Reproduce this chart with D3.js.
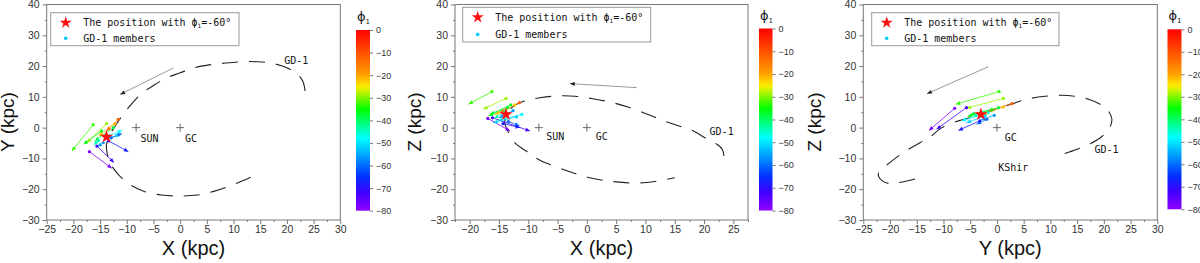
<!DOCTYPE html>
<html>
<head>
<meta charset="utf-8">
<script src="https://cdn.jsdelivr.net/npm/d3@7"></script>
<style>
  body { margin: 0; background: #fff; }
  svg { display: block; }
</style>
</head>
<body>
<div id="chart"></div>
<script>
// ---- data (kpc) ----
const orbitXY = [[23.4,11.9],[23.0,15.0],[22.0,17.3],[20.2,19.3],[17.5,20.8],[14.5,21.4],[11.5,21.4],[8.5,21.0],[5.5,20.4],[2.5,19.4],[0,17.8],[-2.5,16.2],[-5,13.7],[-7.2,11.1],[-9.0,7.9],[-10.6,4.5],[-12.0,1.0],[-13.2,-2.5],[-13.8,-5.5],[-13.7,-8.2],[-13.3,-10.8],[-12.6,-13.0],[-11.4,-15.6],[-9.3,-18.6],[-6.6,-20.8],[-3.5,-21.9],[0,-22.2],[3.2,-21.9],[6.3,-20.7],[9.4,-18.9],[12.2,-16.9],[15,-14.8]];
const orbitXZ = [[23.4,-9.2],[23.1,-7.0],[22.2,-5.4],[20.4,-3.6],[18.2,-1.1],[15.6,0.6],[13,2.3],[10,4.6],[7,6.7],[4,8.3],[1,9.4],[-2,10.2],[-5,10.3],[-8,9.7],[-10.8,8.6],[-12.5,7.0],[-13.7,4.5],[-14.0,1.6],[-13.4,-1.5],[-12.3,-4.9],[-10,-8.1],[-8,-10.6],[-5.7,-12.4],[-3.4,-14],[-1.5,-15.2],[0.5,-16.3],[2.8,-17.1],[5.5,-17.7],[8,-18],[10.2,-17.8],[12.5,-17.2],[15,-16.3]];
const orbitYZ = [[12.7,-8.4],[15,-7],[17.5,-5.2],[19.7,-2.8],[21.1,0],[21.5,2.8],[20.8,5.5],[19.3,7.6],[17,9.3],[14.5,10.2],[12,10.5],[9,10.2],[6,9.4],[4.3,8.6],[3,7.8],[0,6.1],[-3,4.4],[-5,3.2],[-7.2,2.2],[-10.3,0],[-12.5,-3],[-14.4,-4.9],[-17,-7.5],[-20,-11.3],[-21.3,-13.2],[-22.2,-15.1],[-21.5,-17.2],[-20.3,-18.1],[-18.5,-17.9],[-15.3,-16.7]];

// members: [start x, start y, arrow end x, arrow end y, phi1]
const membersXY = [
  [-16.3,0.9,-20.3,-7.6,-33],[-13.8,1.3,-17.5,-4.9,-29],[-11.6,2.7,-13.8,-1.1,-12],
  [-12.2,1.3,-15.3,-2.7,-22],[-12.5,0,-16.0,-4.3,-38],[-14.7,-1.1,-18.1,-5.4,-36],
  [-13.2,-2.6,-10.9,-0.9,-48],[-13.6,-3.6,-11.3,-2.2,-52],[-12.9,-3.3,-10.9,-1.9,-60],
  [-13.4,-4.3,-9.7,-7.8,-68],[-15.6,-6.0,-12.4,-11.3,-72],[-17.0,-7.8,-12.8,-13.2,-78],
  [-14.4,-4.9,-15.5,-6.2,-56],[-15.3,-4.2,-16.2,-5.6,-44]
];
const membersXZ = [
  [-16.2,11.7,-20.2,7.6,-33],[-13.8,9.5,-17.7,6.0,-29],[-11.5,8.1,-14.8,4.9,-12],
  [-12.3,7.4,-15.7,4.3,-22],[-13.0,7.4,-16.5,4.3,-38],[-13.5,6.5,-16.8,3.8,-36],
  [-11.1,4.3,-15.1,2.4,-48],[-12.0,3.5,-16.0,1.6,-52],[-13.4,2.0,-11.5,0.6,-60],
  [-14.3,1.3,-11.4,0,-68],[-16.1,3.2,-9.7,-1.1,-72],[-16.9,3.0,-13.1,-1.1,-78],
  [-12.6,5.5,-15.0,3.2,-56],[-14.0,5.2,-15.8,3.0,-44]
];
const membersYZ = [
  [0.4,11.7,-7.7,7.6,-33],[1.2,9.5,-5.7,6.3,-29],[2.8,7.8,-1.6,5.4,-12],
  [1.2,6.7,-2.6,4.3,-22],[0.3,6.5,-5.0,4.3,-38],[-1.0,5.8,-5.5,3.6,-36],
  [-1.6,4.9,-6.6,2.2,-48],[-2.2,3.8,-5.7,1.6,-52],[-1.9,2.7,-3.8,1.1,-60],
  [-3.2,2.2,-7.2,-0.9,-68],[-5.7,6.5,-11.3,-0.5,-72],[-7.9,6.3,-12.7,-0.9,-78],
  [-0.5,4.0,-3.0,2.5,-56],[-2.6,5.0,-4.5,3.5,-44]
];

const starXY = [-13.8,-3.0], starXZ = [-13.8,4.3], starYZ = [-3.0,4.3];
const motionXY = [[-1.25,19.4],[-11.25,10.8]];
const motionXZ = [[8.5,13.0],[-2.9,14.3]];
const motionYZ = [[-1.6,19.8],[-13.1,11.0]];
const crossesXY = [[-8.25,0],[0,0]], crossesXZ = [[-8.2,0],[0,0]], crossesYZ = [[0,0]];
const labelsXY = [["SUN",-5.76,-3.56],["GC",2.02,-3.56],["GD-1",21.75,21.8]];
const labelsXZ = [["SUN",-5.38,-3.0],["GC",2.53,-3.0],["GD-1",23.0,-1.1]];
const labelsYZ = [["GC",2.6,-3.24],["GD-1",20.5,-7.0],["KShir",3.06,-12.96]];

const yTicks = [-30,-20,-10,0,10,20,30,40];
const xTicks = [-25,-20,-15,-10,-5,0,5,10,15,20,25,30];
const phiTicks = [0,-10,-20,-30,-40,-50,-60,-70,-80];

// rainbow colour scale of the colourbar
const color = d3.scaleLinear()
  .domain([0,-10,-20,-25,-35,-48,-57,-65,-72,-80])
  .range(["#ff0000","#ff5000","#ffa000","#ffee00","#00ff00","#00ffff","#0090ff","#0030ff","#4000ff","#9000ff"]);

const panels = [
  { left: 46.7, right: 340.3, xDomain: [-25,30], xLabel: "X (kpc)", yLabel: "Y (kpc)", yLabelX: 14,
    orbit: orbitXY, members: membersXY, star: starXY, motion: motionXY, crosses: crossesXY, labels: labelsXY,
    legend: { x: 50.7, y: 12.7, w: 188.3, h: 33 }, bar: { x: 356, y: 30, w: 14, h: 180.7 } },
  { left: 455, right: 748, xDomain: [-22.5,27.5], xLabel: "X (kpc)", yLabel: "Z (kpc)", yLabelX: 421,
    orbit: orbitXZ, members: membersXZ, star: starXZ, motion: motionXZ, crosses: crossesXZ, labels: labelsXZ,
    legend: { x: 462.7, y: 7.3, w: 188, h: 34.7 }, bar: { x: 759, y: 28.5, w: 13.5, h: 182 } },
  { left: 863.3, right: 1157.3, xDomain: [-25,30], xLabel: "Y (kpc)", yLabel: "Z (kpc)", yLabelX: 821,
    orbit: orbitYZ, members: membersYZ, star: starYZ, motion: motionYZ, crosses: crossesYZ, labels: labelsYZ,
    legend: { x: 871.7, y: 12.7, w: 187.3, h: 33 }, bar: { x: 1167.5, y: 29.3, w: 14, h: 180 } }
];

const plotTop = 4.5, plotBottom = 220;
const svg = d3.select("#chart").append("svg").attr("width", 1200).attr("height", 263);

const defs = svg.append("defs");
const grad = defs.append("linearGradient").attr("id", "rainbow")
  .attr("x1", 0).attr("y1", 0).attr("x2", 0).attr("y2", 1);
grad.selectAll("stop")
  .data(d3.range(0, 1.001, 0.02))
  .join("stop")
  .attr("offset", d => d)
  .attr("stop-color", d => color(-80 * d));

const tickFont = "'Liberation Sans', Arial, sans-serif";
const monoFont = "'DejaVu Sans Mono', monospace";

function arrowHead(x0, y0, x1, y1, len, half) {
  const a = Math.atan2(y1 - y0, x1 - x0);
  const bx = x1 - len * Math.cos(a), by = y1 - len * Math.sin(a);
  const px = -Math.sin(a) * half, py = Math.cos(a) * half;
  return `M${x1},${y1}L${bx + px},${by + py}L${bx - px},${by - py}Z`;
}

panels.forEach(p => {
  const x = d3.scaleLinear().domain(p.xDomain).range([p.left, p.right]);
  const y = d3.scaleLinear().domain([-30, 40]).range([plotBottom, plotTop]);
  const g = svg.append("g");

  // axes
  const xMajor = xTicks.filter(v => v >= p.xDomain[0] && v <= p.xDomain[1]);
  const xMinor = d3.range(-27.5, 32.6, 2.5).filter(v => v >= p.xDomain[0] && v <= p.xDomain[1] && !xMajor.includes(v));
  const gx = g.append("g").attr("transform", `translate(0,${plotBottom})`)
    .call(d3.axisBottom(x).tickValues(xMajor).tickSize(4).tickPadding(2));
  g.append("g").attr("transform", `translate(0,${plotBottom})`)
    .call(d3.axisBottom(x).tickValues(xMinor).tickSize(2).tickFormat(""))
    .select(".domain").remove();
  const gy = g.append("g").attr("transform", `translate(${p.left},0)`)
    .call(d3.axisLeft(y).tickValues(yTicks).tickSize(4).tickPadding(3));
  g.append("g").attr("transform", `translate(${p.left},0)`)
    .call(d3.axisLeft(y).tickValues([-25,-15,-5,5,15,25,35]).tickSize(2).tickFormat(""))
    .select(".domain").remove();
  g.selectAll(".domain").remove();
  g.selectAll(".tick line").attr("stroke", "#777");
  [gx, gy].forEach(a => a.selectAll("text")
    .style("font-family", tickFont).style("font-size", "10.5px").attr("fill", "#333"));

  g.append("rect")
    .attr("x", p.left).attr("y", plotTop)
    .attr("width", p.right - p.left).attr("height", plotBottom - plotTop)
    .attr("fill", "none").attr("stroke", "#777").attr("stroke-width", 1);

  // axis titles
  g.append("text")
    .attr("x", (p.left + p.right) / 2).attr("y", 255)
    .attr("text-anchor", "middle")
    .style("font-family", tickFont).style("font-size", "20px").attr("fill", "#111")
    .text(p.xLabel);
  g.append("text")
    .attr("transform", `translate(${p.yLabelX},${122}) rotate(-90)`)
    .attr("text-anchor", "middle")
    .style("font-family", tickFont).style("font-size", "19px").attr("fill", "#111")
    .text(p.yLabel);

  // orbit
  g.append("path")
    .datum(p.orbit)
    .attr("d", d3.line().x(d => x(d[0])).y(d => y(d[1])).curve(d3.curveCatmullRom))
    .attr("fill", "none").attr("stroke", "#222").attr("stroke-width", 1.1)
    .attr("stroke-dasharray", "16,11");

  // direction of motion
  const m = p.motion;
  g.append("line")
    .attr("x1", x(m[0][0])).attr("y1", y(m[0][1]))
    .attr("x2", x(m[1][0])).attr("y2", y(m[1][1]))
    .attr("stroke", "#999").attr("stroke-width", 1);
  g.append("path")
    .attr("d", arrowHead(x(m[0][0]), y(m[0][1]), x(m[1][0]), y(m[1][1]), 5, 2))
    .attr("fill", "#222");

  // SUN / GC crosses
  g.selectAll(".cross").data(p.crosses).join("path")
    .attr("d", d => `M${x(d[0]) - 4},${y(d[1])}h8M${x(d[0])},${y(d[1]) - 4}v8`)
    .attr("stroke", "#666").attr("stroke-width", 1);

  g.selectAll(".lab").data(p.labels).join("text")
    .attr("x", d => x(d[1])).attr("y", d => y(d[2]))
    .attr("dy", "0.35em").attr("text-anchor", "middle")
    .style("font-family", monoFont).style("font-size", "10px").attr("fill", "#111")
    .text(d => d[0]);

  // members: velocity arrows
  const mem = g.append("g");
  mem.selectAll("line").data(p.members).join("line")
    .attr("x1", d => x(d[0])).attr("y1", d => y(d[1]))
    .attr("x2", d => x(d[2])).attr("y2", d => y(d[3]))
    .attr("stroke", d => color(d[4])).attr("stroke-width", 0.8);
  mem.selectAll("path").data(p.members).join("path")
    .attr("d", d => arrowHead(x(d[0]), y(d[1]), x(d[2]), y(d[3]), 4.5, 2))
    .attr("fill", d => color(d[4]));
  mem.selectAll("circle").data(p.members).join("circle")
    .attr("cx", d => x(d[0])).attr("cy", d => y(d[1])).attr("r", 1.6)
    .attr("fill", d => color(d[4]));

  g.append("path")
    .attr("transform", `translate(${x(p.star[0])},${y(p.star[1])})`)
    .attr("d", d3.symbol(d3.symbolStar, 55)())
    .attr("fill", "#ff1010");

  // legend
  const L = p.legend;
  const lg = g.append("g").attr("transform", `translate(${L.x},${L.y})`);
  lg.append("rect").attr("width", L.w).attr("height", L.h)
    .attr("fill", "#fff").attr("stroke", "#999").attr("stroke-width", 1);
  lg.append("path").attr("transform", "translate(15,10)")
    .attr("d", d3.symbol(d3.symbolStar, 45)()).attr("fill", "#ff1010");
  lg.append("circle").attr("cx", 15).attr("cy", L.h - 7.5).attr("r", 1.8).attr("fill", "#00c8ff");
  const t1 = lg.append("text").attr("x", 32.5).attr("y", 10).attr("dy", "0.35em")
    .style("font-family", monoFont).style("font-size", "10px").attr("fill", "#111");
  t1.append("tspan").text("The position with \u03d5");
  t1.append("tspan").attr("dy", 2).style("font-size", "6px").text("1");
  t1.append("tspan").attr("dy", -2).text("=-60\u00b0");
  lg.append("text").attr("x", 32.5).attr("y", L.h - 7.5).attr("dy", "0.35em")
    .style("font-family", monoFont).style("font-size", "10px").attr("fill", "#111")
    .text("GD-1 members");

  // colour bar
  const B = p.bar;
  const cy = d3.scaleLinear().domain([0, -80]).range([B.y, B.y + B.h]);
  g.append("rect").attr("x", B.x).attr("y", B.y).attr("width", B.w).attr("height", B.h)
    .attr("fill", "url(#rainbow)");
  const cb = g.append("g").attr("transform", `translate(${B.x + B.w},0)`)
    .call(d3.axisRight(cy).tickValues(phiTicks).tickSize(3).tickPadding(3));
  cb.select(".domain").remove();
  cb.selectAll(".tick line").attr("stroke", "#777");
  cb.selectAll("text").style("font-family", tickFont).style("font-size", "9px").attr("fill", "#333");
  const ph = g.append("text").attr("x", B.x + 1).attr("y", B.y - 9)
    .style("font-family", "'DejaVu Sans', sans-serif").style("font-size", "13px").attr("fill", "#111");
  ph.append("tspan").text("\u03d5");
  ph.append("tspan").attr("dy", 3).style("font-size", "7px").text("1");
});
</script>
</body>
</html>
